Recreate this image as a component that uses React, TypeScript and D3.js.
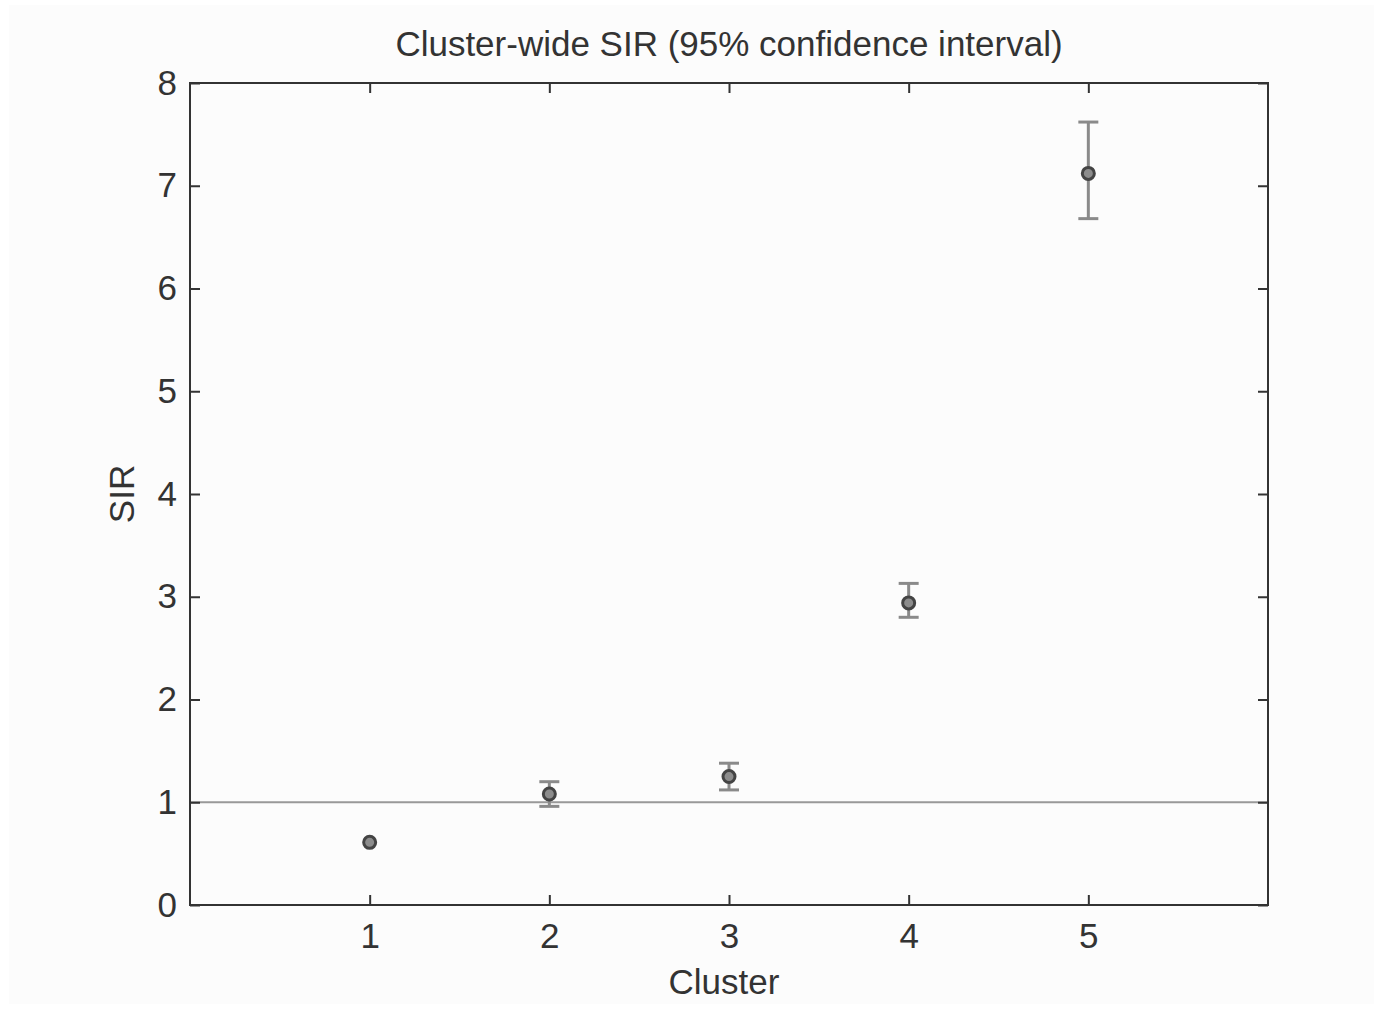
import React, { useEffect, useRef } from "react";
import * as d3 from "d3";

const clusters = [1, 2, 3, 4, 5];
const sir = [0.61, 1.08, 1.25, 2.94, 7.12];
const ciLow = [0.59, 0.96, 1.12, 2.8, 6.68];
const ciHigh = [0.63, 1.2, 1.38, 3.13, 7.62];
const xTicks = [1, 2, 3, 4, 5];
const yTicks = [0, 1, 2, 3, 4, 5, 6, 7, 8];
const refLine = 1;

const W = 1383;
const H = 1009;
const margin = { top: 83, right: 115, bottom: 104, left: 190 };

export default function App() {
  const ref = useRef<SVGSVGElement>(null);

  useEffect(() => {
    const svg = d3.select(ref.current);
    svg.selectAll("*").remove();

    const font = "'Liberation Sans', Arial, sans-serif";
    const fs = "35px";
    const x = d3.scaleLinear().domain([0, 6]).range([margin.left, W - margin.right]);
    const y = d3.scaleLinear().domain([0, 8]).range([H - margin.bottom, margin.top]);
    const [x0, x1] = x.range();
    const [y0, y1] = y.range();

    svg.append("rect").attr("width", W).attr("height", H).attr("fill", "#ffffff");
    svg.append("rect").attr("x", 9).attr("y", 5).attr("width", W - 18).attr("height", H - 10).attr("fill", "#fcfcfc");

    // reference line at SIR = 1
    svg.append("line")
      .attr("x1", x0).attr("x2", x1)
      .attr("y1", y(refLine)).attr("y2", y(refLine))
      .attr("stroke", "#999").attr("stroke-width", 2);

    // axes with inward ticks on all four sides
    const axisStyle = (g: any) => {
      g.select(".domain").remove();
      g.selectAll(".tick line").attr("stroke", "#333").attr("stroke-width", 2);
      g.selectAll(".tick text")
        .attr("fill", "#333")
        .style("font-family", font)
        .style("font-size", fs);
    };

    svg.append("g")
      .attr("transform", `translate(0,${y0})`)
      .call(d3.axisBottom(x).tickValues(xTicks).tickSize(-10).tickPadding(18).tickFormat(d3.format("d")))
      .call(axisStyle);
    svg.append("g")
      .attr("transform", `translate(0,${y1})`)
      .call(d3.axisTop(x).tickValues(xTicks).tickSize(-10).tickFormat(() => ""))
      .call(axisStyle);
    svg.append("g")
      .attr("transform", `translate(${x0},0)`)
      .call(d3.axisLeft(y).tickValues(yTicks).tickSize(-10).tickPadding(13).tickFormat(d3.format("d")))
      .call(axisStyle);
    svg.append("g")
      .attr("transform", `translate(${x1},0)`)
      .call(d3.axisRight(y).tickValues(yTicks).tickSize(-10).tickFormat(() => ""))
      .call(axisStyle);

    svg.append("rect")
      .attr("x", x0).attr("y", y1)
      .attr("width", x1 - x0).attr("height", y0 - y1)
      .attr("fill", "none").attr("stroke", "#333").attr("stroke-width", 2);

    // error bars (hidden behind the marker when the interval is tiny)
    const r = 6;
    const data = clusters.map((c, i) => ({ c, v: sir[i], lo: ciLow[i], hi: ciHigh[i] }));
    const eb = svg.append("g").attr("stroke", "#8a8a8a").attr("stroke-width", 3);
    data.forEach((d) => {
      if (y(d.lo) - y(d.hi) <= 2 * r) return;
      eb.append("line").attr("x1", x(d.c)).attr("x2", x(d.c)).attr("y1", y(d.lo)).attr("y2", y(d.hi));
      eb.append("line").attr("x1", x(d.c) - 10).attr("x2", x(d.c) + 10).attr("y1", y(d.lo)).attr("y2", y(d.lo));
      eb.append("line").attr("x1", x(d.c) - 10).attr("x2", x(d.c) + 10).attr("y1", y(d.hi)).attr("y2", y(d.hi));
    });

    svg.append("g")
      .selectAll("circle")
      .data(data)
      .join("circle")
      .attr("cx", (d) => x(d.c))
      .attr("cy", (d) => y(d.v))
      .attr("r", r)
      .attr("fill", "#8c8c8c")
      .attr("stroke", "#444")
      .attr("stroke-width", 3);

    svg.append("text")
      .attr("x", (x0 + x1) / 2).attr("y", 56)
      .attr("text-anchor", "middle")
      .style("font-family", font).style("font-size", fs).attr("fill", "#333")
      .text("Cluster-wide SIR (95% confidence interval)");

    svg.append("text")
      .attr("x", (x0 + x1) / 2 - 5).attr("y", 994)
      .attr("text-anchor", "middle")
      .style("font-family", font).style("font-size", fs).attr("fill", "#333")
      .text("Cluster");

    svg.append("text")
      .attr("transform", `translate(134,${(y0 + y1) / 2}) rotate(-90)`)
      .attr("text-anchor", "middle")
      .style("font-family", font).style("font-size", fs).attr("fill", "#333")
      .text("SIR");
  }, []);

  return (
    <svg
      ref={ref}
      width={W}
      height={H}
      style={{ position: "absolute", top: 0, left: 0, display: "block" }}
    />
  );
}
